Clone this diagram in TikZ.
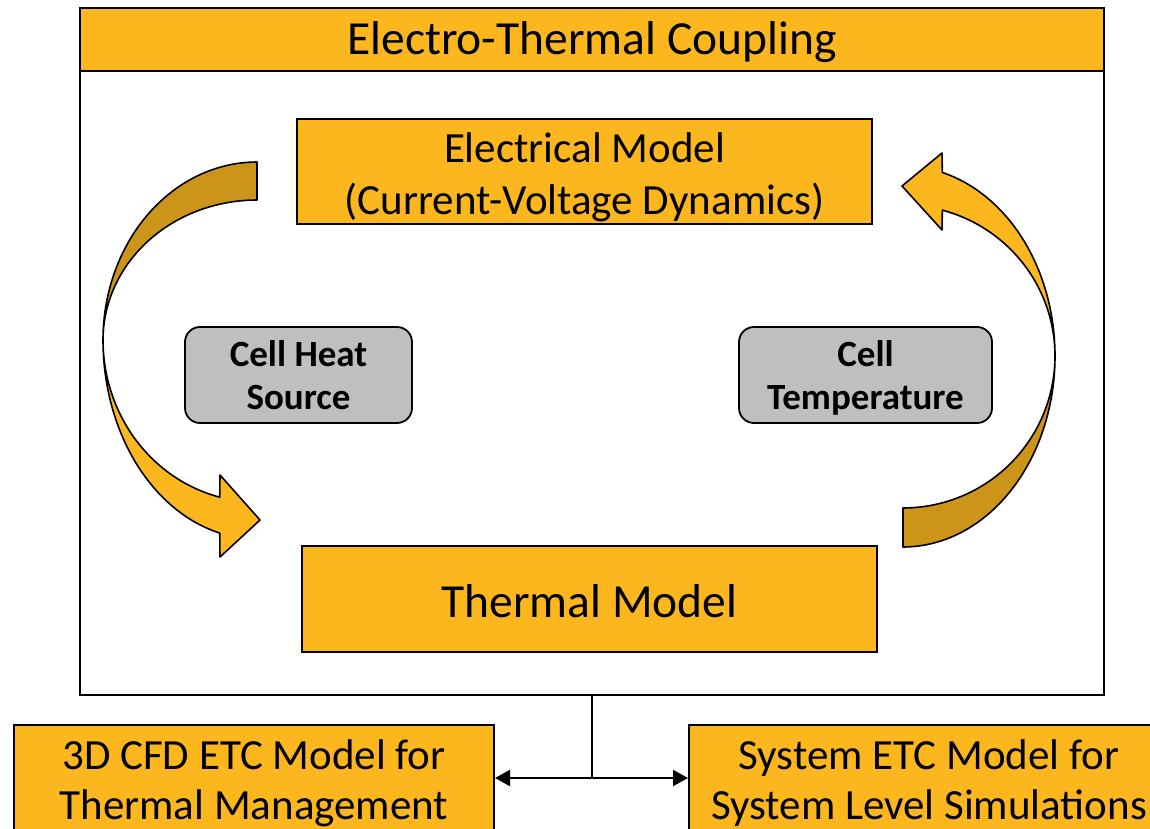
\documentclass[tikz,border=0pt]{standalone}
\usepackage{fontspec}
\setmainfont{Carlito}
\usetikzlibrary{arrows.meta}
\definecolor{gold}{RGB}{253,183,30}
\definecolor{darkgold}{RGB}{204,149,26}
\definecolor{cellgray}{RGB}{191,191,191}
\newcommand\topgap[1]{\rule{0pt}{#1}}
\newcommand\botgap[1]{\rule[-#1]{0pt}{0pt}}
\begin{document}
\begin{tikzpicture}[x=1pt,y=-1pt,
  box/.style={draw=black, line width=2pt, fill=gold, inner sep=0pt, align=center},
  cellbox/.style={draw=black, line width=1.8pt, fill=cellgray, rounded corners=15pt, inner sep=0pt, align=center,
    font=\bfseries\fontsize{37}{43}\selectfont},
  ribbon/.style={draw=black, line width=1.6pt, line join=round}]
\clip (0,0) rectangle (1150,829);
\useasboundingbox (0,0) rectangle (1150,829);
\fill[white] (0,0) rectangle (1150,829);

% outer frame and title band
\node[draw=black, line width=1.8pt, fill=white, minimum width=1024pt, minimum height=687pt, inner sep=0pt] (frame) at (592,351.5) {};
\node[box, line width=1.8pt, minimum width=1024pt, minimum height=63pt, font=\fontsize{47.5}{52}\selectfont] (title) at (592,39.5) {\strut\topgap{46.4pt}Electro-Thermal Coupling};

% model boxes
\node[box, minimum width=575pt, minimum height=105pt, font=\fontsize{43}{52}\selectfont] (elec) at (584.5,171.5) {\topgap{43.9pt}Electrical Model\\(Current-Voltage Dynamics)\botgap{9.1pt}};
\node[box, minimum width=575pt, minimum height=106pt, font=\fontsize{47.5}{56}\selectfont] (therm) at (589.5,599) {\strut\topgap{53.2pt}Thermal Model};

% cell boxes
\node[cellbox, minimum width=227pt, minimum height=96pt] (heat) at (298.5,375) {\topgap{39pt}Cell Heat\\Source\strut};
\node[cellbox, minimum width=253pt, minimum height=96pt] (temp) at (865.5,375) {\topgap{39pt}Cell\\Temperature\strut};

% left curved arrow
\filldraw[ribbon, fill=darkgold]
  plot[domain=-90:-180, samples=50] ({257+154*cos(\x)},{340+178*sin(\x)})
  -- plot[domain=180:270, samples=50] ({257+154*cos(\x)},{340+140*sin(\x)}) -- cycle;
\filldraw[ribbon, fill=gold]
  plot[domain=180:104, samples=50] ({257+154*cos(\x)},{340+199*sin(\x)})
  -- (220,557) -- (260,520) -- (220,475)
  -- plot[domain=104:180, samples=50] ({257+154*cos(\x)},{340+162*sin(\x)}) -- cycle;

% right curved arrow
\filldraw[ribbon, fill=darkgold]
  plot[domain=90:0, samples=50] ({903+152*cos(\x)},{356+191*sin(\x)})
  -- plot[domain=0:90, samples=50] ({903+152*cos(\x)},{356+152*sin(\x)}) -- cycle;
\filldraw[ribbon, fill=gold]
  plot[domain=0:-75, samples=50] ({903+152*cos(\x)},{356+190*sin(\x)})
  -- (942,153) -- (902,186) -- (942,230)
  -- plot[domain=-75:0, samples=50] ({903+152*cos(\x)},{356+151*sin(\x)}) -- cycle;

% bottom boxes
\node[box, minimum width=480pt, minimum height=110pt, font=\fontsize{43}{50}\selectfont] (cfd) at (254,780) {\topgap{43pt}3D CFD ETC Model for\\Thermal Management\strut};
\node[box, minimum width=480pt, minimum height=110pt, font=\fontsize{43}{50}\selectfont] (sys) at (929,780) {\topgap{43pt}System ETC Model for\\System Level Simulations\strut};

% connector
\coordinate (j) at (592,778);
\draw[line width=1.8pt] (frame.south) -- (j);
\draw[line width=2pt, {Triangle[length=15pt,width=16pt]}-{Triangle[length=15pt,width=16pt]}] (cfd.east |- j) -- (sys.west |- j);
\end{tikzpicture}
\end{document}
